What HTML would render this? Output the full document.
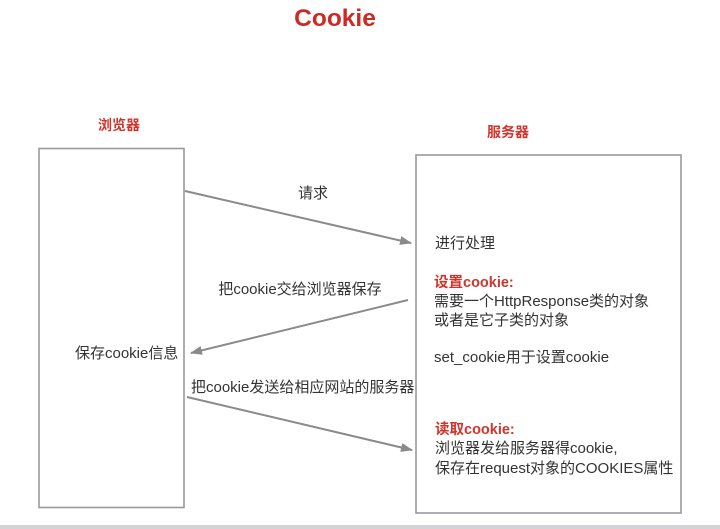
<!DOCTYPE html>
<html><head><meta charset="utf-8"><style>
html,body{margin:0;padding:0;background:#fff;}
svg{display:block;}
text{font-family:"Liberation Sans","Noto Sans CJK SC",sans-serif;}
</style></head><body>
<svg width="720" height="529" viewBox="0 0 720 529" xmlns="http://www.w3.org/2000/svg">
<defs>
<marker id="ah" markerWidth="12" markerHeight="12" refX="11" refY="6" orient="auto" markerUnits="userSpaceOnUse">
<path d="M0,1.5 L12,6 L0,10.5 z" fill="#8a8a8c"/>
</marker>
</defs>
<rect width="720" height="529" fill="#fff"/>
<text x="335" y="26" text-anchor="middle" font-size="24.5" font-weight="bold" fill="#cc2a22">Cookie</text>
<text x="119" y="130" text-anchor="middle" font-size="14" font-weight="bold" fill="#d0342c">浏览器</text>
<text x="508" y="137" text-anchor="middle" font-size="14" font-weight="bold" fill="#d0342c">服务器</text>
<rect x="39" y="148.5" width="145" height="359" fill="none" stroke="#9a9a9e" stroke-width="1.6"/>
<rect x="416" y="155" width="265" height="358" fill="none" stroke="#9a9a9e" stroke-width="1.6"/>
<line x1="185" y1="191" x2="411" y2="243" stroke="#8a8a8c" stroke-width="2" marker-end="url(#ah)"/>
<line x1="408" y1="300" x2="191" y2="353" stroke="#8a8a8c" stroke-width="2" marker-end="url(#ah)"/>
<line x1="187" y1="397" x2="412" y2="450" stroke="#8a8a8c" stroke-width="2" marker-end="url(#ah)"/>
<g font-size="15" fill="#333">
<text x="313" y="198" text-anchor="middle">请求</text>
<text x="300" y="294" text-anchor="middle">把cookie交给浏览器保存</text>
<text x="75" y="358">保存cookie信息</text>
<text x="191" y="392">把cookie发送给相应网站的服务器</text>
<text x="435" y="248">进行处理</text>
<text x="434" y="306">需要一个HttpResponse类的对象</text>
<text x="434" y="325">或者是它子类的对象</text>
<text x="434" y="362">set_cookie用于设置cookie</text>
<text x="435" y="453">浏览器发给服务器得cookie,</text>
<text x="435" y="473">保存在request对象的COOKIES属性</text>
</g>
<text x="434" y="287" font-size="14.5" font-weight="bold" fill="#d0342c">设置cookie:</text>
<text x="435" y="434" font-size="14.5" font-weight="bold" fill="#d0342c">读取cookie:</text>
<rect x="0" y="525" width="720" height="4" fill="#d4d4d6"/>
</svg>
</body></html>
